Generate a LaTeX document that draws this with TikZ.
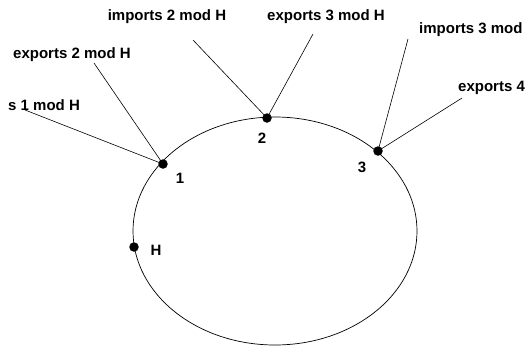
\documentclass[tikz,border=0pt]{standalone}
\usepackage{fontspec}
\setmainfont{Liberation Sans}
\begin{document}
\begin{tikzpicture}[x=1pt,y=-1pt,
  lbl/.style={font=\bfseries\fontsize{15}{17}\selectfont, inner sep=0pt},
  dotnode/.style={circle, fill=black, inner sep=0pt, minimum size=9.5pt},
  leader/.style={draw=black, line width=0.6pt}]
\useasboundingbox (0,0) rectangle (528,346);
\draw[line width=0.7pt] (275,231) ellipse [x radius=142, y radius=114];
% dots
\node[dotnode] (d1) at (163,164) {};
\node[dotnode] (d2) at (267,118) {};
\node[dotnode] (d3) at (378,151) {};
\node[dotnode] (dH) at (134,247) {};
% dot labels
\node[lbl] (n1) at (180,178) {1};
\node[lbl] (n2) at (262,138) {2};
\node[lbl] (n3) at (362,167) {3};
\node[lbl] (nH) at (156,250) {H};
% text labels
\node[lbl] (t1) at (167,17) {imports 2 mod H};
\node[lbl] (t2) at (72,55) {exports 2 mod H};
\node[lbl, anchor=west] (t3) at (8,105) {s 1 mod H};
\node[lbl] (t4) at (326,17) {exports 3 mod H};
\node[lbl, anchor=west] (t5) at (419,30) {imports 3 mod};
\node[lbl, anchor=west] (t6) at (458,88) {exports 4};
% leader ends
\coordinate (c1) at (193,40);
\coordinate (c2) at (94,63);
\coordinate (c3) at (25,110);
\coordinate (c4) at (313,34);
\coordinate (c5) at (408,39);
\coordinate (c6) at (462,98);
\draw[leader] (c1) -- (d2.center);
\draw[leader] (c2) -- (d1.center);
\draw[leader] (c3) -- (d1.center);
\draw[leader] (c4) -- (d2.center);
\draw[leader] (c5) -- (d3.center);
\draw[leader] (c6) -- (d3.center);
\end{tikzpicture}
\end{document}
